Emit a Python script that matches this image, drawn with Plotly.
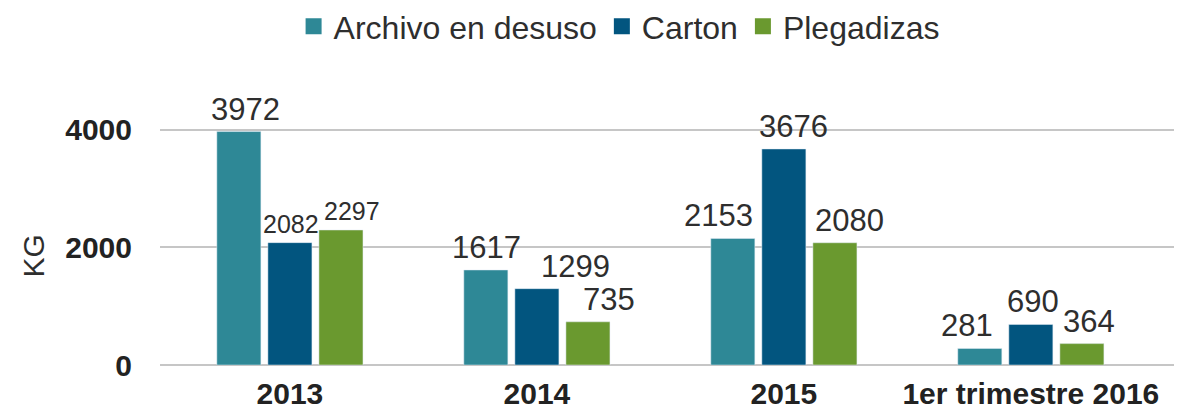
import plotly.graph_objects as go

categories = ["2013", "2014", "2015", "1er trimestre 2016"]
archivo = [3972, 1617, 2153, 281]
carton = [2082, 1299, 3676, 690]
plegadizas = [2297, 735, 2080, 364]

series = [
    ("Archivo en desuso", archivo, "#2E8896"),
    ("Carton", carton, "#02557F"),
    ("Plegadizas", plegadizas, "#6A992F"),
]

# label styling (size, horizontal nudge in px) per series / category
label_sizes = [[31, 31, 31, 31], [25, 31, 31, 31], [25, 31, 31, 31]]
label_xshift = [[7, 1, -14, -13], [1, 39, 10, 2], [11, 21, 15, 7]]

FONT = "Liberation Sans, Arial, sans-serif"
BARGAP = 0.38
GROUPGAP = 0.137

fig = go.Figure()
for name, vals, color in series:
    fig.add_trace(go.Bar(name=name, x=categories, y=vals, marker_color=color,
                         showlegend=False, legendgroup=name))
# legend entries with larger square swatches
for name, vals, color in series:
    fig.add_trace(go.Scatter(name=name, x=[None], y=[None], mode="markers",
                             marker=dict(symbol="square", size=17, color=color),
                             legendgroup=name, showlegend=True))

slot = (1 - BARGAP) / len(series)
for j, (name, vals, color) in enumerate(series):
    for i, v in enumerate(vals):
        fig.add_annotation(
            x=i + (j - (len(series) - 1) / 2) * slot, y=v, xref="x", yref="y",
            text=str(v), showarrow=False, yanchor="bottom", yshift=3,
            xshift=label_xshift[j][i],
            font=dict(size=label_sizes[j][i], color="#2e2e2e", family=FONT),
        )

fig.add_annotation(
    text="KG", textangle=-90, xref="paper", yref="paper", x=-0.124, y=0.378,
    xanchor="center", yanchor="middle", showarrow=False,
    font=dict(size=30, color="#2e2e2e", family=FONT),
)

fig.update_layout(
    width=1182, height=409,
    margin=dict(l=152, r=8, t=69, b=52),
    paper_bgcolor="white", plot_bgcolor="white",
    barmode="group", bargap=BARGAP, bargroupgap=GROUPGAP,
    font=dict(family=FONT, color="#2e2e2e"),
    legend=dict(orientation="h", x=0.517, xanchor="center", y=0.955, yanchor="middle",
                xref="container", yref="container", font=dict(size=32, color="#2e2e2e"),
                traceorder="normal", itemsizing="trace"),
)
fig.update_xaxes(
    range=[-0.526, 3.612],
    tickfont=dict(size=30, color="#222", family=FONT, weight="bold"),
    showline=False, ticks="", ticklabelstandoff=8,
)
fig.update_yaxes(
    range=[0, 4900], tickvals=[0, 2000, 4000], ticktext=["0", "2000", "4000"],
    showgrid=True, gridcolor="#C6C6C6", gridwidth=1.5,
    zeroline=True, zerolinecolor="#C6C6C6", zerolinewidth=1.5,
    tickfont=dict(size=30, color="#222", family=FONT, weight="bold"),
    ticklabelstandoff=27,
)
fig.write_html("out.html")
